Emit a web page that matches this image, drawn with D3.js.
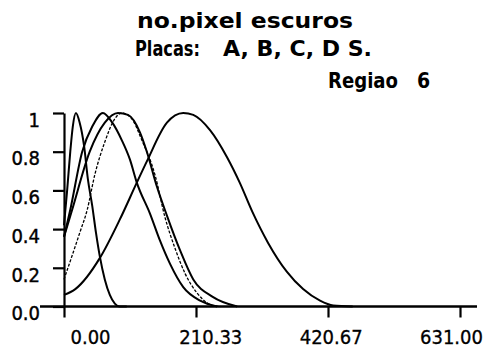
<!DOCTYPE html>
<html>
<head>
<meta charset="utf-8">
<script src="https://cdn.jsdelivr.net/npm/d3@7/dist/d3.min.js"></script>
<style>
  html, body { margin: 0; padding: 0; background: #fff; }
  svg { display: block; }
  text { fill: #000; }
  .title text { font-family: "DejaVu Sans Condensed", "DejaVu Sans", sans-serif; font-stretch: condensed; font-weight: bold; }
  .tick text { font-family: "DejaVu Sans Condensed", "DejaVu Sans", sans-serif; font-stretch: condensed; }
</style>
</head>
<body>
<svg id="chart" width="486" height="352"></svg>
<script>
// Axis ticks and labels
const xTickValues = [0, 210.33, 420.67, 631];
const xTickLabels = ["0.00", "210.33", "420.67", "631.00"];
const yTickValues = [0, 0.2, 0.4, 0.6, 0.8, 1];
const yTickLabels = ["0.0", "0.2", "0.4", "0.6", "0.8", "1"];

// Normalised distributions of dark pixel counts, one per plate
const seriesNames = ["A", "B", "C", "D", "S"];
const xA = [0, 5, 10, 14, 19, 25, 32, 38, 45, 51, 57, 65, 73, 81, 89, 100];
const yA = [0.42, 0.6, 0.8, 0.93, 1.0, 0.95, 0.83, 0.66, 0.52, 0.38, 0.26, 0.14, 0.06, 0.015, 0, 0];
const xB = [0, 10, 29, 45, 62, 77, 92, 105, 116, 137, 153, 169, 190, 217, 244];
const yB = [0.36, 0.5, 0.8, 0.93, 1.0, 0.95, 0.86, 0.76, 0.64, 0.48, 0.34, 0.22, 0.10, 0.03, 0];
const xC = [0, 13, 41, 65, 86, 102, 121, 132, 148, 164, 185, 206, 237, 276];
const yC = [0.36, 0.5, 0.8, 0.95, 1.0, 0.99, 0.9, 0.8, 0.62, 0.47, 0.29, 0.14, 0.05, 0];
const xD = [0, 25, 37, 49, 65, 81, 92, 108, 124, 145, 161, 177, 193, 212, 233, 249];
const yD = [0.14, 0.38, 0.5, 0.68, 0.85, 0.97, 1.0, 0.97, 0.86, 0.68, 0.46, 0.3, 0.17, 0.07, 0.01, 0];
const xS = [0, 18, 57, 89, 116, 132, 164, 190, 206, 233, 260, 280, 300, 325, 355, 381, 408, 429, 460];
const yS = [0.06, 0.09, 0.25, 0.45, 0.64, 0.75, 0.95, 1.0, 0.99, 0.91, 0.77, 0.64, 0.49, 0.33, 0.18, 0.09, 0.03, 0.005, 0];

const seriesX = [xA, xB, xC, xD, xS];
const seriesY = [yA, yB, yC, yD, yS];
const seriesDash = [null, null, null, "3,1.6", null];
const seriesWidth = [2, 2, 2, 1.3, 2];

const svg = d3.select("#chart");

const x = d3.scaleLinear().domain([0, 631]).range([64, 460]);
const y = d3.scaleLinear().domain([0, 1]).range([306.5, 113]);
// tick labels sit on their own evenly spaced track under the axis
const xLabelPos = d3.scaleLinear().domain([0, 631]).range([90, 451]);

// Titles
const title = svg.append("g").attr("class", "title").attr("font-size", 21);
title.append("text").attr("x", 137).attr("y", 28)
  .attr("textLength", 216).attr("lengthAdjust", "spacingAndGlyphs").text("no.pixel  escuros");
title.append("text").attr("x", 135).attr("y", 56)
  .attr("textLength", 65).attr("lengthAdjust", "spacingAndGlyphs").text("Placas:");
title.append("text").attr("x", 223).attr("y", 56)
  .attr("textLength", 149).attr("lengthAdjust", "spacingAndGlyphs").text("A, B, C, D S.");
title.append("text").attr("x", 328).attr("y", 88)
  .attr("textLength", 70).attr("lengthAdjust", "spacingAndGlyphs").text("Regiao");
title.append("text").attr("x", 417).attr("y", 88).text("6");

// Curves
const line = d3.line().curve(d3.curveMonotoneX);
seriesNames.forEach((name, i) => {
  const pts = seriesX[i].map((v, j) => [x(v), y(seriesY[i][j])]);
  svg.append("path")
    .attr("class", "series series-" + name)
    .attr("d", line(pts))
    .attr("fill", "none")
    .attr("stroke", "#000")
    .attr("stroke-width", seriesWidth[i])
    .attr("stroke-linejoin", "round")
    .attr("stroke-dasharray", seriesDash[i]);
});

// Y axis
const yAxis = svg.append("g")
  .attr("transform", `translate(${x(0)},0)`)
  .call(d3.axisLeft(y).tickValues(yTickValues)
    .tickFormat((d, i) => yTickLabels[i])
    .tickSize(11).tickSizeOuter(0).tickPadding(13));
yAxis.select(".domain").attr("stroke-width", 2.2);
yAxis.selectAll(".tick line").attr("stroke-width", 2.2);
yAxis.selectAll(".tick text")
  .attr("font-size", 20).attr("font-family", null)
  .attr("dy", "0.66em").attr("fill", "#000")
  .attr("stroke", "#000").attr("stroke-width", 0.4);

// X axis
const xAxis = svg.append("g")
  .attr("transform", `translate(0,${y(0)})`)
  .call(d3.axisBottom(x).tickValues(xTickValues)
    .tickFormat((d, i) => xTickLabels[i])
    .tickSize(11).tickSizeOuter(0).tickPadding(12));
xAxis.select(".domain").remove();
xAxis.selectAll(".tick line").attr("stroke-width", 2.2);
xAxis.selectAll(".tick text")
  .attr("font-size", 20).attr("font-family", null)
  .attr("fill", "#000")
  .attr("stroke", "#000").attr("stroke-width", 0.3)
  .attr("x", d => xLabelPos(d) - x(d));
xAxis.append("line")
  .attr("x1", x(0) - 24).attr("x2", x(631) + 17)
  .attr("y1", 0).attr("y2", 0)
  .attr("stroke", "#000").attr("stroke-width", 2.6);
</script>
</body>
</html>
